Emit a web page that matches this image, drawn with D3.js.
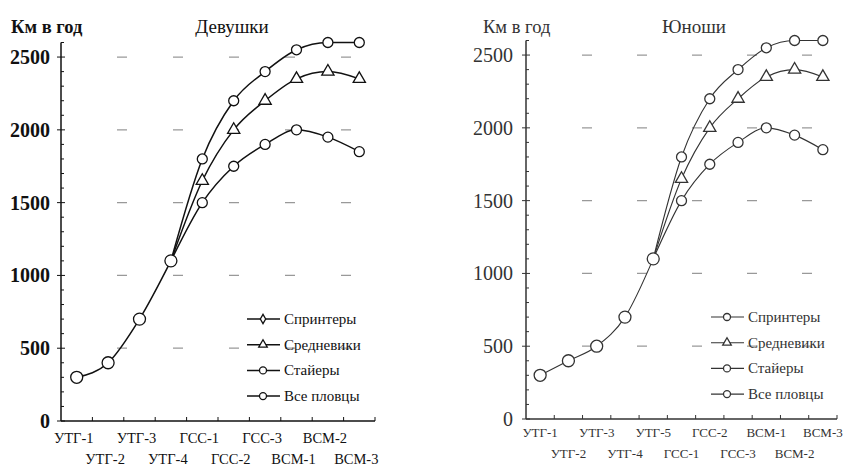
<!DOCTYPE html>
<html>
<head>
<meta charset="utf-8">
<script src="https://cdn.jsdelivr.net/npm/d3@7"></script>
<style>
  body { margin: 0; background: #fff; }
  svg, svg text { font-family: "Liberation Serif", "Times New Roman", Times, "DejaVu Serif", serif; }
</style>
</head>
<body>
<div id="chart"></div>
<script>
// --- data ---
const girlsStages = [`УТГ-1`, `УТГ-2`, `УТГ-3`, `УТГ-4`, `ГСС-1`, `ГСС-2`, `ГСС-3`, `ВСМ-1`, `ВСМ-2`, `ВСМ-3`];
const girlsAll      = [300, 400, 700, 1100, null, null, null, null, null, null];
const girlsSprint   = [null, null, null, 1100, 1500, 1750, 1900, 2000, 1950, 1850];
const girlsMiddle   = [null, null, null, 1100, 1650, 2000, 2200, 2350, 2400, 2350];
const girlsDistance = [null, null, null, 1100, 1800, 2200, 2400, 2550, 2600, 2600];

const boysStages = [`УТГ-1`, `УТГ-2`, `УТГ-3`, `УТГ-4`, `УТГ-5`, `ГСС-1`, `ГСС-2`, `ГСС-3`, `ВСМ-1`, `ВСМ-2`, `ВСМ-3`];
const boysAll      = [300, 400, 500, 700, 1100, null, null, null, null, null, null];
const boysSprint   = [null, null, null, null, 1100, 1500, 1750, 1900, 2000, 1950, 1850];
const boysMiddle   = [null, null, null, null, 1100, 1650, 2000, 2200, 2350, 2400, 2350];
const boysDistance = [null, null, null, null, 1100, 1800, 2200, 2400, 2550, 2600, 2600];

const yTicks = [0, 500, 1000, 1500, 2000, 2500];
const legendNames = [`Спринтеры`, `Средневики`, `Стайеры`, `Все пловцы`];
const yLabel = `Км в год`;

const FONT = `"Liberation Serif", "Times New Roman", Times, "DejaVu Serif", serif`;

const svg = d3.select(`#chart`).append(`svg`)
    .attr(`width`, 848)
    .attr(`height`, 472)
    .attr(`font-family`, FONT);

const drawPanel = (cfg) => {
  const g = svg.append(`g`);
  const x = d3.scaleBand().domain(cfg.stages).range([cfg.x0, cfg.x1]);
  const y = d3.scaleLinear().domain([0, 2600]).range([cfg.y0, cfg.y0 - 378.5]);
  const cx = (i) => x(cfg.stages[i]) + x.bandwidth() / 2;
  const ink = cfg.ink;

  // dashed grid
  yTicks.filter((t) => t > 0).forEach((t) => {
    g.append(`line`)
        .attr(`x1`, cfg.gridStart).attr(`x2`, cfg.x1)
        .attr(`y1`, y(t)).attr(`y2`, y(t))
        .attr(`stroke`, `#999`)
        .attr(`stroke-width`, 1.2)
        .attr(`stroke-dasharray`, `10 ${cfg.gridGap}`);
  });

  // y axis with minor ticks
  g.append(`line`)
      .attr(`x1`, cfg.x0).attr(`x2`, cfg.x0)
      .attr(`y1`, y(0)).attr(`y2`, y(2600))
      .attr(`stroke`, ink).attr(`stroke-width`, 1.5);
  d3.range(0, 2601, 100).forEach((t) => {
    const major = t % 500 === 0;
    g.append(`line`)
        .attr(`x1`, major ? cfg.x0 - 4 : cfg.x0).attr(`x2`, cfg.x0 + (major ? 4 : 3))
        .attr(`y1`, y(t)).attr(`y2`, y(t))
        .attr(`stroke`, ink).attr(`stroke-width`, 1);
  });
  yTicks.forEach((t) => {
    g.append(`text`)
        .attr(`x`, cfg.x0 - cfg.labelGap)
        .attr(`y`, y(t) + 7)
        .attr(`text-anchor`, `end`)
        .attr(`font-family`, FONT)
        .attr(`font-size`, 20)
        .attr(`font-weight`, cfg.bold ? `bold` : `normal`)
        .attr(`fill`, ink)
        .text(t);
  });

  // x axis
  g.append(`line`)
      .attr(`x1`, cfg.x0).attr(`x2`, cfg.x1)
      .attr(`y1`, y(0)).attr(`y2`, y(0))
      .attr(`stroke`, ink).attr(`stroke-width`, 1.5);
  cfg.stages.forEach((s, i) => {
    g.append(`line`)
        .attr(`x1`, x(s) + x.bandwidth()).attr(`x2`, x(s) + x.bandwidth())
        .attr(`y1`, y(0)).attr(`y2`, y(0) - 4)
        .attr(`stroke`, ink).attr(`stroke-width`, 1);
    g.append(`text`)
        .attr(`x`, cx(i) + cfg.labelShift)
        .attr(`y`, i % 2 === 0 ? cfg.row1 : cfg.row2)
        .attr(`text-anchor`, `middle`)
        .attr(`font-family`, FONT)
        .attr(`font-size`, cfg.xFont)
        .attr(`fill`, ink)
        .text(s);
  });

  // titles
  g.append(`text`)
      .attr(`x`, cfg.yLabelX).attr(`y`, 33)
      .attr(`font-family`, FONT)
      .attr(`font-size`, 18.5)
      .attr(`font-weight`, cfg.bold ? `bold` : `normal`)
      .attr(`fill`, ink)
      .text(yLabel);
  g.append(`text`)
      .attr(`x`, cfg.titleX).attr(`y`, 33)
      .attr(`text-anchor`, `middle`)
      .attr(`font-family`, FONT)
      .attr(`font-size`, 19)
      .attr(`fill`, ink)
      .text(cfg.title);

  // lines
  const line = d3.line()
      .defined((d) => d != null)
      .x((d, i) => cx(i))
      .y((d) => y(d))
      .curve(d3.curveMonotoneX);

  const series = [
    { values: cfg.all, marker: `circle`, r: 6 },
    { values: cfg.sprint, marker: `circle`, r: 5 },
    { values: cfg.middle, marker: `triangle`, r: 5 },
    { values: cfg.distance, marker: `circle`, r: 5 }
  ];

  series.forEach((s) => {
    g.append(`path`)
        .datum(s.values)
        .attr(`fill`, `none`)
        .attr(`stroke`, ink)
        .attr(`stroke-width`, cfg.lineWidth)
        .attr(`d`, line);
  });

  const drawMarker = (sel, type, r) => {
    if (type === `triangle`) {
      sel.append(`path`)
          .attr(`d`, d3.symbol(d3.symbolTriangle, r * r * 2.6)())
          .attr(`fill`, `#fff`).attr(`stroke`, ink).attr(`stroke-width`, 1.3);
    } else if (type === `diamond`) {
      sel.append(`path`)
          .attr(`d`, d3.symbol(d3.symbolDiamond, r * r * 2)())
          .attr(`fill`, `#fff`).attr(`stroke`, ink).attr(`stroke-width`, 1.3);
    } else {
      sel.append(`circle`).attr(`r`, r)
          .attr(`fill`, `#fff`).attr(`stroke`, ink).attr(`stroke-width`, 1.3);
    }
  };

  series.forEach((s) => {
    s.values.forEach((v, i) => {
      if (v == null) return;
      // the shared point at the split is drawn once, by the "all" series
      if (s !== series[0] && cfg.all[i] != null) return;
      const m = g.append(`g`).attr(`transform`, `translate(${cx(i)},${y(v)})`);
      drawMarker(m, s.marker, s.r);
    });
  });

  // legend
  const legendMarkers = [cfg.sprintLegend, `triangle`, `circle`, `circle`];
  legendNames.forEach((name, i) => {
    const ly = cfg.legendY + i * cfg.legendStep;
    const lg = g.append(`g`).attr(`transform`, `translate(${cfg.legendX},${ly})`);
    lg.append(`line`)
        .attr(`x1`, 0).attr(`x2`, 33)
        .attr(`y1`, 0).attr(`y2`, 0)
        .attr(`stroke`, ink).attr(`stroke-width`, cfg.lineWidth);
    drawMarker(lg.append(`g`).attr(`transform`, `translate(16,0)`), legendMarkers[i], 3.5);
    lg.append(`text`)
        .attr(`x`, 37).attr(`y`, 5)
        .attr(`font-family`, FONT)
        .attr(`font-size`, 15)
        .attr(`fill`, ink)
        .text(name);
  });
};

drawPanel({
  stages: girlsStages, all: girlsAll, sprint: girlsSprint, middle: girlsMiddle, distance: girlsDistance,
  x0: 61, x1: 375, y0: 421, gridStart: 117, gridGap: 46,
  labelGap: 11, labelShift: -3, row1: 443, row2: 464, xFont: 14.5,
  yLabelX: 11, titleX: 232, title: `Девушки`,
  legendX: 247, legendY: 319, legendStep: 25.7, sprintLegend: `diamond`,
  ink: `#111`, lineWidth: 1.5, bold: true
});

drawPanel({
  stages: boysStages, all: boysAll, sprint: boysSprint, middle: boysMiddle, distance: boysDistance,
  x0: 526, x1: 837, y0: 419, gridStart: 582, gridGap: 45,
  labelGap: 13, labelShift: 0, row1: 437, row2: 458, xFont: 13,
  yLabelX: 483, titleX: 694, title: `Юноши`,
  legendX: 711, legendY: 317, legendStep: 25.7, sprintLegend: `circle`,
  ink: `#333`, lineWidth: 1.1, bold: false
});
</script>
</body>
</html>
